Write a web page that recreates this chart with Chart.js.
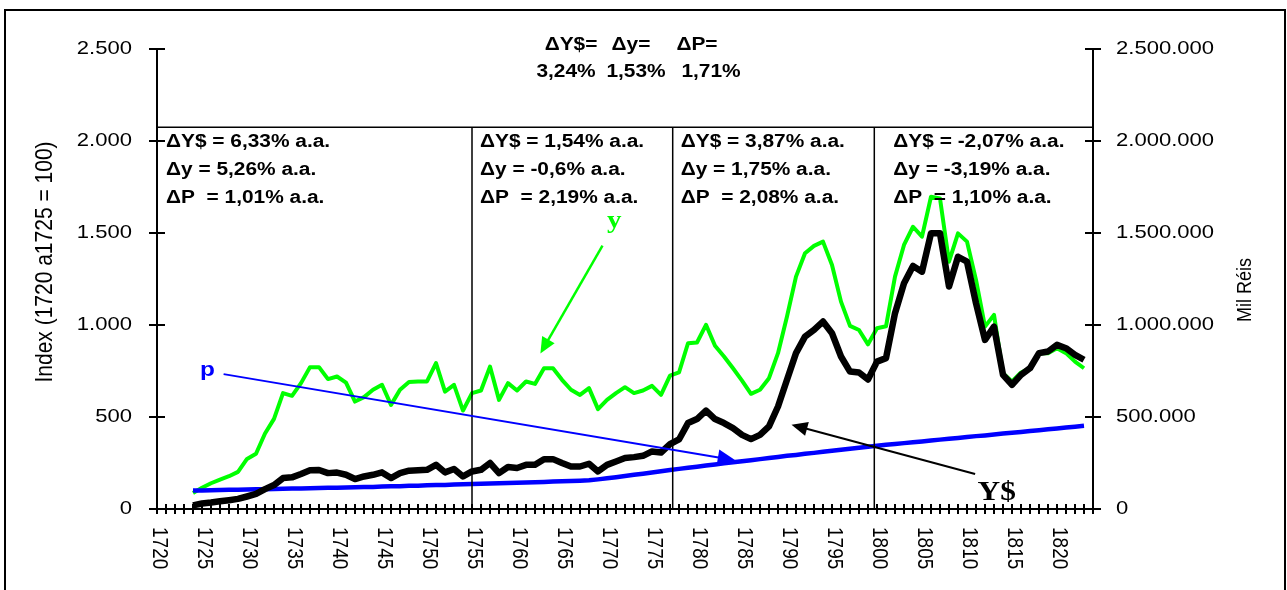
<!DOCTYPE html>
<html>
<head>
<meta charset="utf-8">
<script src="https://cdn.jsdelivr.net/npm/chart.js@4.4.1/dist/chart.umd.min.js"></script>
<style>
  body { margin: 0; background: #fff; }
  #wrap { position: relative; width: 1287px; height: 590px; overflow: hidden; }
  #frame { position: absolute; left: 4px; top: 9px; width: 1278px; height: 620px; border: 2px solid #000; }
  canvas { position: absolute; left: 0; top: 0; }
</style>
</head>
<body>
<div id="wrap"><div id="frame"></div><canvas id="chart" width="1287" height="590"></canvas></div>
<script>
// categories: one per year, 1720..1824 (series start in 1724)
const firstYear = 1720, lastYear = 1824, dataStart = 1724;
const years = [];
for (let yr = firstYear; yr <= lastYear; yr++) years.push(String(yr));
const yearLabelsShown = ['1720','1725','1730','1735','1740','1745','1750','1755','1760','1765','1770',
  '1775','1780','1785','1790','1795','1800','1805','1810','1815','1820'];

const leftTicks = [0, 500, 1000, 1500, 2000, 2500];
const rightTicks = [0, 500000, 1000000, 1500000, 2000000, 2500000];

// y - index (1720 a 1725 = 100), 1724..1823
const yIndex = [
  87, 115, 140, 160, 178, 202, 272, 300, 410, 490,
  630, 615, 684, 771, 771, 706, 720, 687, 584, 608,
  648, 675, 566, 648, 690, 693, 693, 793, 638, 675,
  535, 630, 644, 774, 593, 684, 644, 693, 680, 765,
  765, 702, 648, 620, 657, 543, 593, 630, 662, 630,
  644, 669, 620, 725, 742, 901, 905, 1001, 887, 829,
  765, 698, 626, 648, 711, 847, 1046, 1263, 1390, 1430,
  1453, 1326, 1127, 995, 973, 895, 982, 993, 1263, 1435,
  1534, 1480, 1697, 1688, 1344, 1498, 1453, 1245, 991, 1055,
  738, 693, 742, 765, 847, 847, 874, 847, 801, 765
];

// Y$ - Mil Réis, 1724..1823
const yNominal = [
  20000, 30000, 35000, 42000, 48000, 55000, 68000, 82000, 108000, 130000,
  168000, 172000, 190000, 210000, 212000, 195000, 198000, 186000, 163000, 177000,
  186000, 199000, 168000, 195000, 208000, 210000, 213000, 240000, 199000, 217000,
  177000, 204000, 213000, 250000, 195000, 228000, 223000, 240000, 240000, 271000,
  271000, 250000, 231000, 231000, 246000, 204000, 240000, 258000, 277000, 282000,
  289000, 313000, 307000, 352000, 378000, 467000, 489000, 535000, 489000, 467000,
  440000, 403000, 380000, 403000, 449000, 557000, 702000, 847000, 937000, 973000,
  1019000, 955000, 829000, 747000, 742000, 704000, 801000, 820000, 1064000, 1227000,
  1321000, 1290000, 1498000, 1498000, 1209000, 1371000, 1344000, 1118000, 919000, 991000,
  729000, 675000, 729000, 765000, 847000, 856000, 892000, 874000, 838000, 811000
];

// p - price index, 1724..1823
const pIndex = [
  100, 101, 102, 103, 104, 105, 106, 107, 108, 109,
  110, 111, 112, 113, 114, 115, 116, 117, 118, 119,
  120, 122, 123, 124, 126, 127, 129, 130, 131, 133,
  134, 136, 137, 138, 140, 141, 143, 144, 146, 147,
  149, 151, 152, 154, 156, 161, 167, 173, 179, 186,
  192, 198, 205, 212, 218, 224, 230, 236, 242, 248,
  254, 260, 265, 271, 277, 283, 289, 294, 300, 305,
  311, 316, 322, 327, 333, 338, 344, 349, 353, 358,
  363, 367, 372, 377, 382, 386, 391, 396, 400, 405,
  410, 414, 419, 424, 428, 433, 438, 443, 447, 452
];

const pad = new Array(dataStart - firstYear).fill(null);

// period dividers and growth-rate notes
const periodBreaks = [1755, 1777.3, 1799.7];
const dividerTop = 2075;
const periodNotes = [
  { from: 1720, dx: 9,  lines: ['ΔY$ = 6,33% a.a.', 'Δy = 5,26% a.a.', 'ΔP  = 1,01% a.a.'] },
  { from: 1755, dx: 8,  lines: ['ΔY$ = 1,54% a.a.', 'Δy = -0,6% a.a.', 'ΔP  = 2,19% a.a.'] },
  { from: 1777.3, dx: 8, lines: ['ΔY$ = 3,87% a.a.', 'Δy = 1,75% a.a.', 'ΔP  = 2,08% a.a.'] },
  { from: 1799.7, dx: 19, lines: ['ΔY$ = -2,07% a.a.', 'Δy = -3,19% a.a.', 'ΔP  = 1,10% a.a.'] }
];
const totalHead = ['ΔY$=', 'Δy=', 'ΔP='];
const totalRates = ['3,24%', '1,53%', '1,71%'];

const SX = 1.16; // text in the picture is a bit wider than tall
const SANS = '"Liberation Sans", Arial, sans-serif';
const SERIF = '"Liberation Serif", "Times New Roman", serif';

function fmt(v) {
  return String(v).replace(/\B(?=(\d{3})+(?!\d))/g, '.');
}

function drawText(ctx, s, x, y, font, color, align, rot) {
  ctx.save();
  ctx.translate(x, y);
  ctx.scale(SX, 1);
  if (rot) ctx.rotate(rot);
  ctx.font = font;
  ctx.fillStyle = color;
  ctx.textAlign = align || 'left';
  ctx.textBaseline = 'middle';
  ctx.fillText(s, 0, 0);
  ctx.restore();
}

function drawArrow(ctx, x1, y1, x2, y2, color, width, head) {
  const a = Math.atan2(y2 - y1, x2 - x1);
  ctx.save();
  ctx.strokeStyle = color;
  ctx.fillStyle = color;
  ctx.lineWidth = width;
  ctx.beginPath();
  ctx.moveTo(x1, y1);
  ctx.lineTo(x2 - Math.cos(a) * head * 0.8, y2 - Math.sin(a) * head * 0.8);
  ctx.stroke();
  ctx.beginPath();
  ctx.moveTo(x2, y2);
  ctx.lineTo(x2 - head * Math.cos(a) + head * 0.45 * Math.sin(a), y2 - head * Math.sin(a) - head * 0.45 * Math.cos(a));
  ctx.lineTo(x2 - head * Math.cos(a) - head * 0.45 * Math.sin(a), y2 - head * Math.sin(a) + head * 0.45 * Math.cos(a));
  ctx.closePath();
  ctx.fill();
  ctx.restore();
}

// axes with crossing tick marks, labels drawn by hand (x labels read downwards)
const axesPlugin = {
  id: 'axesPlugin',
  beforeDatasetsDraw(chart) {
    const { ctx, chartArea: ca, scales } = chart;
    const x = scales.x, yl = scales.y, yr = scales.y2;
    ctx.save();
    ctx.strokeStyle = '#000';
    ctx.lineWidth = 2;
    ctx.beginPath();
    ctx.moveTo(ca.left, ca.top); ctx.lineTo(ca.left, ca.bottom);
    ctx.moveTo(ca.right, ca.top); ctx.lineTo(ca.right, ca.bottom);
    ctx.moveTo(ca.left, ca.bottom); ctx.lineTo(ca.right, ca.bottom);
    ctx.stroke();

    ctx.beginPath();
    years.forEach((lab, i) => {
      const px = x.getPixelForValue(i);
      ctx.moveTo(px, ca.bottom - 5); ctx.lineTo(px, ca.bottom + 5);
    });
    leftTicks.forEach(v => {
      const py = yl.getPixelForValue(v);
      ctx.moveTo(ca.left - 8, py); ctx.lineTo(ca.left + 8, py);
    });
    rightTicks.forEach(v => {
      const py = yr.getPixelForValue(v);
      ctx.moveTo(ca.right - 8, py); ctx.lineTo(ca.right + 8, py);
    });
    ctx.stroke();
    ctx.restore();

    const tickFont = '19px ' + SANS;
    leftTicks.forEach(v => drawText(ctx, fmt(v), ca.left - 25, yl.getPixelForValue(v), tickFont, '#000', 'right'));
    rightTicks.forEach(v => drawText(ctx, fmt(v), ca.right + 23, yr.getPixelForValue(v), tickFont, '#000', 'left'));
    yearLabelsShown.forEach(lab => {
      const px = x.getPixelForValue(years.indexOf(lab));
      drawText(ctx, lab, px + 2, ca.bottom + 18, tickFont, '#000', 'left', Math.PI / 2);
    });

    drawText(ctx, 'Index (1720 a1725 = 100)', 45, 262, '21px ' + SANS, '#000', 'center', -Math.PI / 2);
    drawText(ctx, 'Mil Réis', 1245, 290, '18px ' + SANS, '#000', 'center', -Math.PI / 2);
  }
};

const notesPlugin = {
  id: 'notesPlugin',
  afterDatasetsDraw(chart) {
    const { ctx, chartArea: ca, scales } = chart;
    const x = scales.x, y = scales.y;
    const xp = yr => x.getPixelForValue(yr - firstYear);
    const topY = y.getPixelForValue(dividerTop);

    ctx.save();
    ctx.strokeStyle = '#000';
    ctx.lineWidth = 1.5;
    ctx.beginPath();
    ctx.moveTo(ca.left, topY); ctx.lineTo(ca.right, topY);
    periodBreaks.forEach(b => {
      ctx.moveTo(xp(b), topY); ctx.lineTo(xp(b), ca.bottom);
    });
    ctx.stroke();
    ctx.restore();

    const noteFont = 'bold 18px ' + SANS;
    periodNotes.forEach(n => {
      n.lines.forEach((s, i) => drawText(ctx, s, xp(n.from) + n.dx, topY + 15 + i * 28, noteFont, '#000', 'left'));
    });
    const headX = [571, 631, 697], rateX = [566, 636, 711];
    totalHead.forEach((s, i) => drawText(ctx, s, headX[i], 45, noteFont, '#000', 'center'));
    totalRates.forEach((s, i) => drawText(ctx, s, rateX[i], 72, noteFont, '#000', 'center'));

    // series labels and pointers
    drawArrow(ctx, xp(1769.5), y.getPixelForValue(1431), xp(1762.6), y.getPixelForValue(845), '#00ff00', 2.5, 16);
    drawText(ctx, 'y', xp(1770.8), y.getPixelForValue(1560), 'bold 25px ' + SERIF, '#00ff00', 'center');

    drawArrow(ctx, xp(1727.4), y.getPixelForValue(733), xp(1784.3), y.getPixelForValue(264), '#0000ff', 2, 18);
    drawText(ctx, 'p', xp(1725.6), y.getPixelForValue(752), 'bold 21px ' + SANS, '#0000ff', 'center');

    drawArrow(ctx, xp(1810.9), y.getPixelForValue(190), xp(1790.5), y.getPixelForValue(458), '#000', 2, 16);
    drawText(ctx, 'Y$', xp(1813.3), y.getPixelForValue(85), 'bold 27px ' + SERIF, '#000', 'center');
  }
};

const ctx = document.getElementById('chart').getContext('2d');
new Chart(ctx, {
  type: 'line',
  data: {
    labels: years,
    datasets: [
      {
        label: 'Y$',
        data: pad.concat(yNominal),
        yAxisID: 'y2',
        borderColor: '#000000',
        borderWidth: 6.5,
        borderJoinStyle: 'round',
        pointRadius: 0,
        tension: 0
      },
      {
        label: 'p',
        data: pad.concat(pIndex),
        yAxisID: 'y',
        borderColor: '#0000ff',
        borderWidth: 4.5,
        borderJoinStyle: 'round',
        pointRadius: 0,
        tension: 0
      },
      {
        label: 'y',
        data: pad.concat(yIndex),
        yAxisID: 'y',
        borderColor: '#00ff00',
        borderWidth: 4,
        borderJoinStyle: 'round',
        pointRadius: 0,
        tension: 0
      }
    ]
  },
  options: {
    responsive: false,
    animation: false,
    layout: { padding: { top: 49, left: 0, right: 0, bottom: 0 } },
    plugins: {
      legend: { display: false },
      tooltip: { enabled: false }
    },
    scales: {
      x: {
        type: 'category',
        offset: false,
        ticks: { display: false },
        grid: { display: false },
        border: { display: false },
        afterFit: s => { s.height = 81; }
      },
      y: {
        position: 'left',
        min: 0,
        max: 2500,
        ticks: { display: false, stepSize: 500 },
        grid: { display: false },
        border: { display: false },
        afterFit: s => { s.width = 157; }
      },
      y2: {
        position: 'right',
        min: 0,
        max: 2500000,
        ticks: { display: false, stepSize: 500000 },
        grid: { display: false },
        border: { display: false },
        afterFit: s => { s.width = 194; }
      }
    }
  },
  plugins: [axesPlugin, notesPlugin]
});
</script>
</body>
</html>
